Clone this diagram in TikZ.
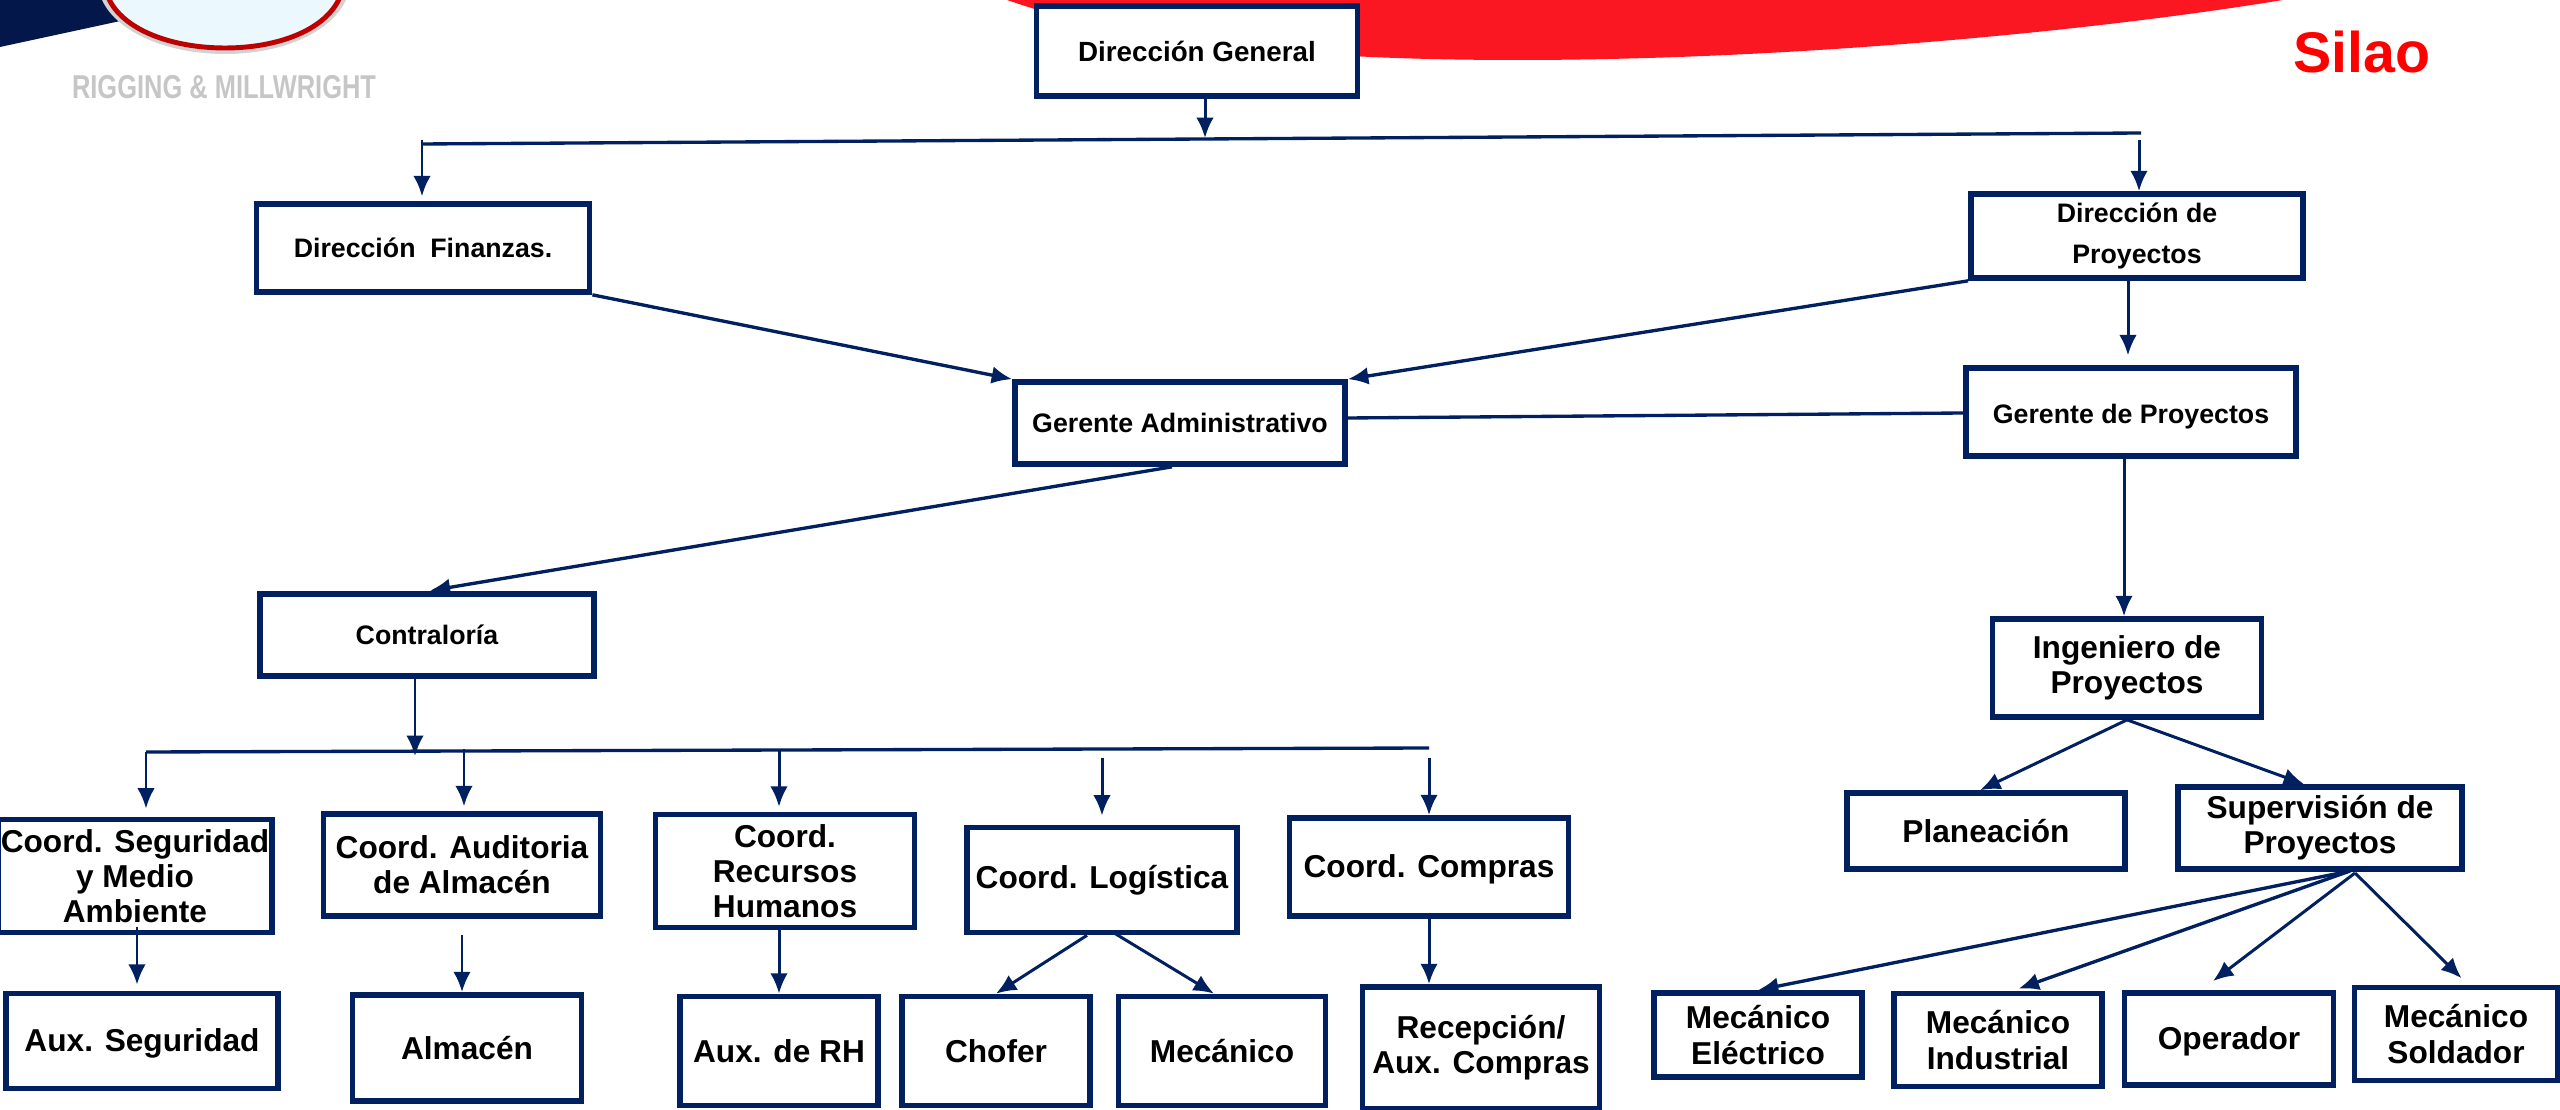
\documentclass[tikz,border=0pt]{standalone}
\usepackage{fontspec}
\setmainfont{Liberation Sans}
\usetikzlibrary{arrows.meta}
\definecolor{navyline}{HTML}{002060}
\definecolor{navycorner}{HTML}{04174A}
\definecolor{swoosh}{HTML}{FA1722}

\begin{document}
\begin{tikzpicture}[
						x=0.01cm, y=-0.01cm,
						orgbox/.style={draw=navyline, line width=1.6pt, fill=white, align=center, inner sep=0pt, font=\bfseries\fontsize{9}{10}\selectfont},
						smallbox/.style={orgbox, font=\bfseries\fontsize{7.6}{11.6}\selectfont},
						lowtext/.style={text height=8pt},
						link/.style={draw=navyline, line width=0.85pt, -{Latex[length=5.8pt,width=5pt]}},
						heavylink/.style={draw=navyline, line width=0.95pt, -{Latex[length=5.8pt,width=5pt]}},
						plainlink/.style={draw=navyline, line width=0.95pt},
						]
						\useasboundingbox (0,0) rectangle (2560,1110);
						%Background
						\fill[navycorner] (0,0) -- (130,0) -- (125,20) -- (0,47) -- cycle;
						\fill[swoosh] (1007,0) .. controls (1150,50) and (1350,60) .. (1517,60) .. controls (1800,60) and (2100,30) .. (2283,0) -- cycle;
						\fill[gray!35] (102,0) .. controls (118,34) and (170,54) .. (225,54) .. controls (280,54) and (330,34) .. (346,0) -- cycle;
						\fill[white!92!cyan, draw=red!75!black, line width=1.4pt] (108,-3) .. controls (122,30) and (172,48) .. (225,48) .. controls (278,48) and (326,30) .. (340,-3) -- cycle;
						\node[text=gray!45, font=\bfseries\fontsize{9.4}{10}\selectfont] (brand) at (224,87) {\scalebox{0.77}[1]{RIGGING \& MILLWRIGHT}};
						\node[text=red, font=\bfseries\fontsize{16.3}{18}\selectfont] (city) at (2362,52) {Silao};

						%Nodes
						\node[smallbox, minimum width=3.21cm, minimum height=0.9cm, font=\bfseries\fontsize{7.9}{10}\selectfont] (dirGen) at (1197,51) {Dirección General};
						\node[smallbox, minimum width=3.33cm, minimum height=0.88cm] (dirFin) at (423,248) {Dirección\ \ Finanzas.};
						\node[smallbox, minimum width=3.32cm, minimum height=0.84cm] (dirProy) at (2137,236) {Dirección de\\Proyectos};
						\node[smallbox, minimum width=3.3cm, minimum height=0.82cm] (gerAdmin) at (1180,423) {Gerente Administrativo};
						\node[smallbox, lowtext, minimum width=3.3cm, minimum height=0.88cm] (gerProy) at (2131,412) {Gerente de Proyectos};
						\node[smallbox, minimum width=3.34cm, minimum height=0.82cm] (contra) at (427,635) {Contraloría};

						\node[orgbox, minimum width=2.74cm, minimum height=1.13cm] (coSeg) at (135,876) {Coord. Seguridad\\y Medio\\Ambiente};
						\node[orgbox, minimum width=2.77cm, minimum height=1.02cm] (coAud) at (462,865) {Coord. Auditoria\\de Almacén};
						\node[orgbox, minimum width=2.59cm, minimum height=1.13cm] (coRH) at (785,871) {Coord.\\Recursos\\Humanos};
						\node[orgbox, minimum width=2.7cm, minimum height=1.05cm] (coLog) at (1102,880) {Coord. Logística};
						\node[orgbox, lowtext, minimum width=2.79cm, minimum height=0.98cm] (coComp) at (1429,867) {Coord. Compras};

						\node[orgbox, lowtext, minimum width=2.72cm, minimum height=0.95cm] (auxSeg) at (142,1041) {Aux. Seguridad};
						\node[orgbox, minimum width=2.29cm, minimum height=1.06cm] (almacen) at (467,1048) {Almacén};
						\node[orgbox, minimum width=1.98cm, minimum height=1.09cm] (auxRH) at (779,1051) {Aux. de RH};
						\node[orgbox, minimum width=1.88cm, minimum height=1.09cm] (chofer) at (996,1051) {Chofer};
						\node[orgbox, minimum width=2.07cm, minimum height=1.09cm] (mecanico) at (1222,1051) {Mecánico};
						\node[orgbox, minimum width=2.37cm, minimum height=1.22cm] (recep) at (1481,1048) {Recepción/\\Aux. Compras};

						\node[orgbox, minimum width=2.69cm, minimum height=0.98cm] (ingProy) at (2127,668) {Ingeniero de\\Proyectos};
						\node[orgbox, minimum width=2.78cm, minimum height=0.76cm] (plan) at (1986,831) {Planeación};
						\node[orgbox, minimum width=2.84cm, minimum height=0.82cm] (superv) at (2320,828) {Supervisión de\\Proyectos};
						\node[orgbox, minimum width=2.08cm, minimum height=0.84cm] (mecElec) at (1758,1035) {Mecánico\\Eléctrico};
						\node[orgbox, minimum width=2.08cm, minimum height=0.93cm] (mecInd) at (1998,1040) {Mecánico\\Industrial};
						\node[orgbox, lowtext, minimum width=2.09cm, minimum height=0.92cm] (operador) at (2229,1039) {Operador};
						\node[orgbox, minimum width=2.03cm, minimum height=0.93cm] (mecSold) at (2456,1034) {Mecánico\\Soldador};

						%Bus ends and free ends
						\coordinate (busTopL) at (422,144);
						\coordinate (busTopR) at (2141,133);
						\coordinate (busTopIn) at (1205,138);
						\coordinate (dropL) at (422,140);
						\coordinate (dropR) at (2139,140);
						\coordinate (busLowL) at (146,752);
						\coordinate (busLowR) at (1429,748);
						\coordinate (busLowIn) at (415,756);
						\coordinate (dropAud) at (464,749);
						\coordinate (dropRH) at (779,749);
						\coordinate (dropLog) at (1102,758);
						\coordinate (dropComp) at (1429,758);
						\coordinate (fork) at (2350,871);
						\coordinate (forkB) at (2355,873);

						%Lines
						\draw[link] (dirGen.south -| busTopIn) -- (busTopIn);
						\draw[plainlink] (busTopL) -- (busTopR);
						\draw[link, shorten >=1.4pt] (dropL) -- (dirFin.north -| dropL);
						\draw[link] (dropR) -- (dirProy.north -| dropR);
						\draw[link, shorten >=2.8pt] (dirProy.south -| 2128,0) -- (gerProy.north -| 2128,0);
						\draw[heavylink] (dirFin.south east) -- (gerAdmin.north west);
						\draw[heavylink] (dirProy.south west) -- (gerAdmin.north east);
						\draw[plainlink] (gerAdmin.east |- 0,418) -- (gerProy.west |- 0,413);
						\draw[heavylink, shorten >=0.8pt] (gerAdmin.south -| 1172,0) -- (contra.north);
						\draw[link] (gerProy.south -| 2124,0) -- (ingProy.north -| 2124,0);

						\draw[link] (contra.south -| busLowIn) -- (busLowIn);
						\draw[plainlink] (busLowL) -- (busLowR);
						\draw[link, shorten >=2.3pt] (busLowL) -- (coSeg.north -| busLowL);
						\draw[link, shorten >=1.4pt] (dropAud) -- (coAud.north -| dropAud);
						\draw[link, shorten >=1.4pt] (dropRH) -- (coRH.north -| dropRH);
						\draw[link, shorten >=2.6pt] (dropLog) -- (coLog.north -| dropLog);
						\draw[link] (dropComp) -- (coComp.north -| dropComp);

						\draw[link, shorten <=-2.3pt, shorten >=1.7pt] (coSeg.south -| 137,0) -- (auxSeg.north -| 137,0);
						\draw[link, shorten <=4.6pt] (coAud.south -| 462,0) -- (almacen.north -| 462,0);
						\draw[link] (coRH.south -| auxRH.north) -- (auxRH.north);
						\draw[link] (coLog.south -| 1087,0) -- (chofer.north);
						\draw[link, shorten <=-2.3pt] (coLog.south -| 1118,0) -- (mecanico.north -| 1214,0);
						\draw[link] (coComp.south) -- (coComp.south |- recep.north);

						\draw[link] (ingProy.south) -- (plan.north -| 1980,0);
						\draw[link] (ingProy.south) -- (superv.north -| 2304,0);
						\draw[heavylink] (fork) -- (mecElec.north);
						\draw[heavylink, shorten >=1.7pt] (fork) -- (mecInd.north -| 2013,0);
						\draw[link, shorten >=4.3pt] (forkB) -- (operador.north -| 2201,0);
						\draw[link, shorten >=2.6pt] (forkB) -- (mecSold.north -| 2468,0);
					\end{tikzpicture}
\end{document}
